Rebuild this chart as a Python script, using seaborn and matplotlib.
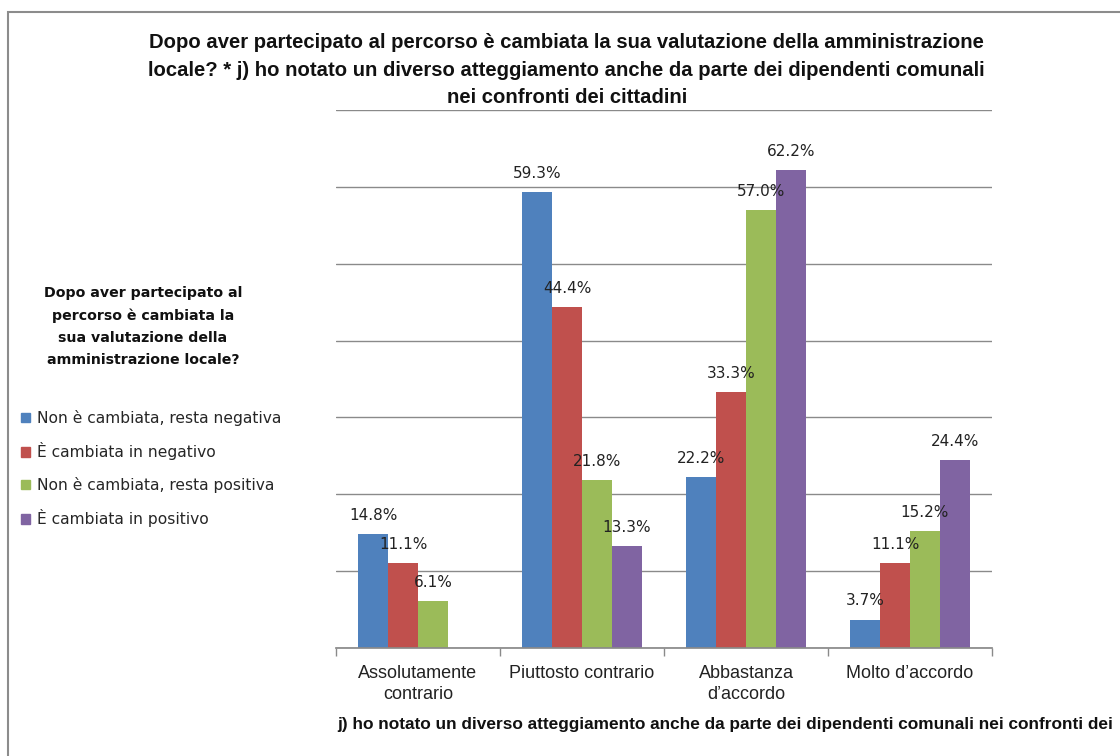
import matplotlib
matplotlib.use("Agg")
import matplotlib.pyplot as plt
import matplotlib.patches as mpatches
import numpy as np
import pandas as pd
import seaborn as sns

# dati
categorie = ["Assolutamente\ncontrario", "Piuttosto contrario", "Abbastanza\nd\u2019accordo", "Molto d\u2019accordo"]
serie = ["Non è cambiata, resta negativa", "È cambiata in negativo",
         "Non è cambiata, resta positiva", "È cambiata in positivo"]
resta_negativa = [14.8, 59.3, 22.2, 3.7]
cambiata_negativo = [11.1, 44.4, 33.3, 11.1]
resta_positiva = [6.1, 21.8, 57.0, 15.2]
cambiata_positivo = [np.nan, 13.3, 62.2, 24.4]
colori = ["#4F81BD", "#C0504D", "#9BBB59", "#8064A2"]

titolo = ("Dopo aver partecipato al percorso è cambiata la sua valutazione della amministrazione\n"
          "locale? * j) ho notato un diverso atteggiamento anche da parte dei dipendenti comunali\n"
          "nei confronti dei cittadini")
titolo_legenda = "Dopo aver partecipato al\npercorso è cambiata la\nsua valutazione della\namministrazione locale?"
# nel riferimento il titolo dell'asse è tagliato al bordo destro dopo "dei"
etichetta_x = "j) ho notato un diverso atteggiamento anche da parte dei dipendenti comunali nei confronti dei"

valori = [resta_negativa, cambiata_negativo, resta_positiva, cambiata_positivo]
righe = []
for s, vals in zip(serie, valori):
    for c, v in zip(categorie, vals):
        righe.append({"categoria": c, "serie": s, "valore": v})
df = pd.DataFrame(righe)

sns.set_theme(style="white")
narrow = ["Liberation Sans Narrow", "Liberation Sans", "DejaVu Sans"]
plt.rcParams["font.family"] = ["DejaVu Sans"]

fig = plt.figure(figsize=(11.2, 7.56), dpi=100)
ax = fig.add_axes([336 / 1120, 1 - 648 / 756, 656 / 1120, 538 / 756])

sns.barplot(data=df, x="categoria", y="valore", hue="serie", order=categorie,
            hue_order=serie, palette=colori, width=0.73, saturation=1,
            linewidth=0, ax=ax, errorbar=None)

for cont in ax.containers:
    ax.bar_label(cont, labels=["" if np.isnan(v) else f"{v:.1f}%" for v in cont.datavalues],
                 padding=8, fontsize=11, color="#222222")

ax.set_ylim(0, 70)
ax.set_xlim(-0.5, 3.5)
ax.set_yticks(np.arange(0, 71, 10))
ax.set_yticklabels([])
ax.yaxis.grid(True, color="#8a8a8a", linewidth=1)
ax.set_axisbelow(True)
for side in ["left", "right", "top"]:
    ax.spines[side].set_visible(False)
ax.spines["bottom"].set_color("#8a8a8a")
ax.tick_params(axis="y", length=0)
ax.tick_params(axis="x", which="major", length=0, pad=12)
ax.set_xticks([-0.5, 0.5, 1.5, 2.5, 3.5], minor=True)
ax.tick_params(axis="x", which="minor", length=6, color="#8a8a8a", direction="out", bottom=True)
ax.set_xticklabels(categorie, fontsize=13, family=narrow, color="#222222", linespacing=1.3)
ax.set_xlabel("")
ax.set_ylabel("")

handles = [mpatches.Rectangle((0, 0), 1, 1, color=c) for c in colori]
ax.legend(handles, serie, loc="upper left", bbox_to_anchor=(21 / 1120, 1 - 410 / 756),
          bbox_transform=fig.transFigure, frameon=False, fontsize=11.2, borderpad=0,
          borderaxespad=0, handlelength=0.55, handleheight=0.55, handletextpad=0.45,
          labelspacing=1.06)

fig.text(143 / 1120, 1 - 286 / 756, titolo_legenda, ha="center", va="top",
         fontsize=10.2, fontweight="bold", linespacing=1.73, color="#111111")

fig.text(0.506, 1 - 33 / 756, titolo, ha="center", va="top", fontsize=14.6,
         fontweight="bold", family=narrow, linespacing=1.57, color="#111111")

fig.text(337 / 1120, 1 - 725 / 756, etichetta_x, ha="left", va="center", fontsize=12.4,
         fontweight="bold", family=narrow, color="#111111")

bordo = mpatches.Rectangle((8 / 1120, -0.1), 1.2, 1 - 12 / 756 + 0.1, transform=fig.transFigure,
                           fill=False, edgecolor="#8c8c8c", linewidth=1.5)
fig.patches.append(bordo)

fig.savefig("out.png", dpi=100)
